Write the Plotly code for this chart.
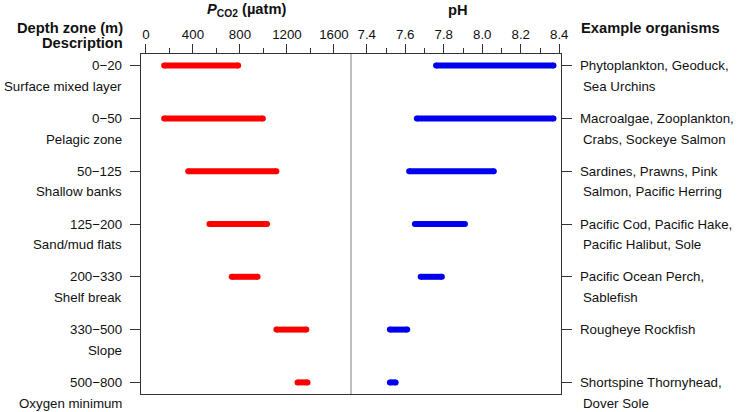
import plotly.graph_objects as go

depth_zones = ["0\u221220", "0\u221250", "50\u2212125", "125\u2212200", "200\u2212330", "330\u2212500", "500\u2212800"]
descriptions = ["Surface mixed layer", "Pelagic zone", "Shallow banks", "Sand/mud flats",
                "Shelf break", "Slope", "Oxygen minimum"]
organisms_line1 = ["Phytoplankton, Geoduck,", "Macroalgae, Zooplankton,", "Sardines, Prawns, Pink",
                   "Pacific Cod, Pacific Hake,", "Pacific Ocean Perch,", "Rougheye Rockfish",
                   "Shortspine Thornyhead,"]
organisms_line2 = ["Sea Urchins", "Crabs, Sockeye Salmon", "Salmon, Pacific Herring",
                   "Pacific Halibut, Sole", "Sablefish", "", "Dover Sole"]
pco2_low = [155, 155, 360, 540, 730, 1110, 1290]
pco2_high = [785, 995, 1110, 1030, 950, 1365, 1375]
ph_low = [7.76, 7.66, 7.62, 7.65, 7.68, 7.52, 7.52]
ph_high = [8.37, 8.37, 8.06, 7.91, 7.79, 7.61, 7.55]
pco2_ticks = [0, 400, 800, 1200, 1600]
ph_ticks = [7.4, 7.6, 7.8, 8.0, 8.2, 8.4]

FONT = "Liberation Sans, Arial, sans-serif"
FRAME = "#333333"
rows = list(range(len(depth_zones)))


def segs(lo, hi):
    xs, ys = [], []
    for i, (a, b) in enumerate(zip(lo, hi)):
        xs += [a, b, None]
        ys += [i, i, None]
    return xs, ys


fig = go.Figure()
xr, yr = segs(pco2_low, pco2_high)
fig.add_trace(go.Scatter(x=xr, y=yr, mode="lines+markers", xaxis="x", yaxis="y",
                         line=dict(color="#FF0000", width=6),
                         marker=dict(color="#FF0000", size=6), showlegend=False,
                         hoverinfo="skip"))
xb, yb = segs(ph_low, ph_high)
fig.add_trace(go.Scatter(x=xb, y=yb, mode="lines+markers", xaxis="x2", yaxis="y2",
                         line=dict(color="#0000EE", width=6),
                         marker=dict(color="#0000EE", size=6), showlegend=False,
                         hoverinfo="skip"))

yrange = [6.22, -0.22]
common_x = dict(side="top", ticks="outside", ticklen=9, tickwidth=1, tickcolor=FRAME,
                showline=True, linecolor=FRAME, linewidth=1, mirror=True,
                showgrid=False, zeroline=False,
                tickfont=dict(family=FONT, size=13.3, color="#111111"))
fig.update_layout(
    width=740, height=412,
    margin=dict(l=141, r=179, t=54, b=18),
    paper_bgcolor="white", plot_bgcolor="white",
    xaxis=dict(domain=[0, 0.5], range=[-42, 1745], tickvals=pco2_ticks,
               minor=dict(dtick=200, tick0=0, ticklen=5, ticks="outside", tickcolor=FRAME),
               anchor="y", **common_x),
    xaxis2=dict(domain=[0.5, 1], range=[7.318, 8.409], tickvals=ph_ticks,
                tickformat=".1f",
                minor=dict(dtick=0.1, tick0=7.4, ticklen=5, ticks="outside", tickcolor=FRAME),
                anchor="y2", **common_x),
    yaxis=dict(range=yrange, tickvals=rows, showticklabels=False, ticks="outside",
               ticklen=10, tickcolor=FRAME, showline=True, linecolor=FRAME,
               showgrid=False, zeroline=False, anchor="x"),
    yaxis2=dict(range=yrange, tickvals=rows, showticklabels=False, ticks="outside",
                ticklen=10, tickcolor=FRAME, showline=True, linecolor=FRAME,
                showgrid=False, zeroline=False, anchor="x2", side="right",
                overlaying="y"),
    shapes=[dict(type="line", xref="paper", yref="paper", x0=0.5, x1=0.5, y0=0, y1=1,
                 line=dict(color="#BEBEBE", width=2), layer="below")],
)

ann = []
lab_font = dict(family=FONT, size=13.3, color="#111111")
LINE2 = -20.7
XL = -0.040
XR = 1.041
for i in rows:
    ann.append(dict(xref="paper", yref="y", x=XL, y=i, text=depth_zones[i],
                    xanchor="right", yanchor="middle", showarrow=False, font=lab_font))
    ann.append(dict(xref="paper", yref="y", x=XL, y=i, yshift=LINE2, text=descriptions[i],
                    xanchor="right", yanchor="middle", showarrow=False, font=lab_font))
    ann.append(dict(xref="paper", yref="y", x=XR, y=i, text=organisms_line1[i],
                    xanchor="left", yanchor="middle", showarrow=False, font=lab_font))
    if organisms_line2[i]:
        ann.append(dict(xref="paper", yref="y", x=XR, y=i, yshift=LINE2,
                        text=organisms_line2[i],
                        xanchor="left", yanchor="middle", showarrow=False, font=lab_font,
                        xshift=3))

hdr_font = dict(family=FONT, size=14.7, color="#111111")
ann += [
    dict(xref="paper", yref="paper", x=-0.039, y=1.0765, text="<b>Depth zone (m)</b>",
         xanchor="right", yanchor="middle", showarrow=False, font=hdr_font),
    dict(xref="paper", yref="paper", x=-0.039, y=1.0315, text="<b>Description</b>",
         xanchor="right", yanchor="middle", showarrow=False, font=hdr_font),
    dict(xref="paper", yref="paper", x=1.042, y=1.0765, text="<b>Example organisms</b>",
         xanchor="left", yanchor="middle", showarrow=False, font=hdr_font),
    dict(xref="paper", yref="paper", x=0.7548, y=1.129, text="<b>pH</b>",
         xanchor="center", yanchor="middle", showarrow=False, font=hdr_font),
    dict(xref="paper", yref="paper", x=0.25, y=1.129,
         text="<b><i>P</i><sub>CO2</sub> (\u00b5atm)</b>",
         xanchor="center", yanchor="middle", showarrow=False, font=hdr_font),
]
fig.update_layout(annotations=ann)

fig.write_html("out.html", config={"displayModeBar": False},
               post_script="document.body.style.margin='0px';document.body.style.overflow='hidden';")
